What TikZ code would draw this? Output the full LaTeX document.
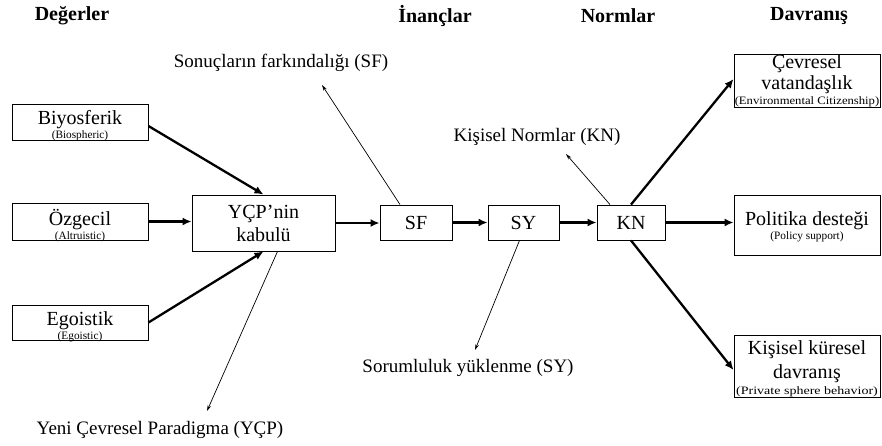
\documentclass[tikz,border=0pt]{standalone}
\usepackage{fontspec}
\usepackage{graphicx}
\setmainfont{Liberation Serif}
\usetikzlibrary{arrows.meta,calc}
\newcommand{\sm}[1]{{\fontsize{11.3}{11.3}\selectfont #1}}
\newcommand{\smw}[2]{{\fontsize{11.3}{11.3}\selectfont\scalebox{#1}[1]{#2}}}
\tikzset{
  box/.style={draw, line width=0.9pt, inner sep=0pt, align=center, font=\fontsize{20}{21}\selectfont},
  frame/.style={draw, line width=0.9pt, inner sep=0pt},
  txt/.style={inner sep=0pt, align=center, font=\fontsize{20}{21}\selectfont},
  hdr/.style={font=\fontsize{20}{20}\selectfont\bfseries},
  lbl/.style={font=\fontsize{19}{19}\selectfont},
  thick arrow/.style={line width=2.3pt, -{Latex[length=9pt,width=8pt]}},
  thin arrow/.style={line width=0.7pt, -{Stealth[length=6pt,width=3.5pt]}},
}
\begin{document}
\begin{tikzpicture}[x=1pt,y=-1pt]
\useasboundingbox (0,0) rectangle (882,445);
% headers
\node[hdr] (h1) at (72,16) {Değerler};
\node[hdr] (h2) at (435,16) {İnançlar};
\node[hdr] (h3) at (618,16) {Normlar};
\node[hdr] (h4) at (809,16) {Davranış};
% value boxes (frame + text)
\node[frame, minimum width=136pt, minimum height=36pt] (bio) at (80,122) {};
\node[txt] (biot) at (80,126) {Biyosferik\\[-7pt]\sm{(Biospheric)}};
\node[frame, minimum width=136pt, minimum height=37pt] (ozg) at (80,221.5) {};
\node[txt] (ozgt) at (80,226) {Özgecil\\[-7pt]\sm{(Altruistic)}};
\node[frame, minimum width=136pt, minimum height=35pt] (ego) at (80,322.5) {};
\node[txt] (egot) at (80,326.5) {Egoistik\\[-7pt]\sm{(Egoistic)}};
% chain
\node[box, minimum width=143pt, minimum height=56pt, font=\fontsize{20}{23}\selectfont] (ycp) at (263.5,223) {YÇP’nin\\kabulü};
\node[box, minimum width=72pt, minimum height=35pt] (sf) at (416,222.5) {SF};
\node[box, minimum width=71pt, minimum height=35pt] (sy) at (523.5,222.5) {SY};
\node[box, minimum width=68pt, minimum height=35pt] (kn) at (631,222.5) {KN};
% behaviour boxes
\node[box, minimum width=146pt, minimum height=50pt, font=\fontsize{20}{21}\selectfont] (cev) at (807,81) {Çevresel\\vatandaşlık\\[-6pt]\smw{1.12}{(Environmental Citizenship)}};
\node[frame, minimum width=146pt, minimum height=60pt] (pol) at (807,225) {};
\node[txt] (polt) at (807,227) {Politika desteği\\[-7pt]\sm{(Policy support)}};
\node[frame, minimum width=146pt, minimum height=62pt] (kis) at (807,366) {};
\node[txt, font=\fontsize{20}{24}\selectfont] (kist) at (807,368.5) {Kişisel küresel\\davranış\\[-8pt]\smw{1.24}{(Private sphere behavior)}};
% labels
\node[lbl] (sfl) at (281,63) {Sonuçların farkındalığı (SF)};
\node[lbl] (knl) at (537,137) {Kişisel Normlar (KN)};
\node[lbl] (syl) at (468,368) {Sorumluluk yüklenme (SY)};
\node[lbl] (ycpl) at (160,430) {Yeni Çevresel Paradigma (YÇP)};
% thick arrows
\draw[thick arrow] ([yshift=-4pt]bio.east) -- (ycp.north);
\draw[thick arrow] (ozg.east) -- (ozg.east -| ycp.west);
\draw[thick arrow] (ego.east) -- (ycp.south);
\draw[thick arrow] (ycp.east) -- (ycp.east -| sf.west);
\draw[thick arrow] (sf.east) -- (sy.west);
\draw[thick arrow] (sy.east) -- (kn.west);
\draw[thick arrow] (kn.north) -- ([yshift=2pt]cev.west);
\draw[thick arrow] (kn.east) -- (kn.east -| pol.west);
\draw[thick arrow] (kn.south) -- ([yshift=-4pt]kis.west);
% thin arrows
\coordinate (sfT) at (322,85);
\coordinate (knT) at (566,154);
\coordinate (syT) at (475,350);
\coordinate (ycpT) at (207,411);
\draw[thin arrow] ([xshift=-16pt]sf.north) -- (sfT);
\draw[thin arrow] ([xshift=-21pt]kn.north) -- (knT);
\draw[thin arrow] ([xshift=-4pt]sy.south) -- (syT);
\draw[thin arrow] ([xshift=14pt]ycp.south) -- (ycpT);
\end{tikzpicture}
\end{document}
